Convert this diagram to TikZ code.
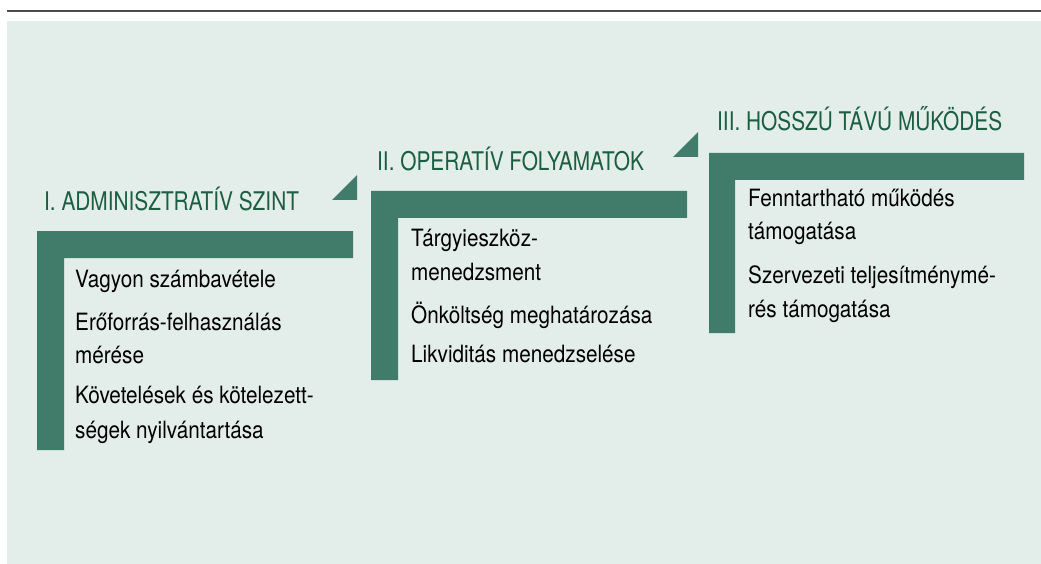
\documentclass[tikz,border=0pt]{standalone}
\usepackage{fontspec}
\setmainfont{TeX Gyre Heros}[FakeStretch=0.87]
\newfontfamily\titlefont{TeX Gyre Heros}[FakeStretch=0.81]
\definecolor{stepgreen}{HTML}{407C69}
\definecolor{titlegreen}{HTML}{1B5E42}
\definecolor{panelbg}{HTML}{E3EDE9}

\tikzset{
  levelbar/.style={fill=stepgreen},
  heading/.style={anchor=base west,inner sep=0pt,text=titlegreen,
                  font=\titlefont\fontsize{25.7}{30}\selectfont},
  itemline/.style={anchor=base west,inner sep=0pt,
                  font=\fontsize{23.8}{28}\selectfont},
}

\begin{document}
\begin{tikzpicture}[x=1pt,y=-1pt]
   \useasboundingbox (0,0) rectangle (1041,564);
   \fill[panelbg] (7,21) rectangle (1041,564);
   \draw[line width=2pt,black!70] (7,11) -- (1041,11);
   % steps
   \fill[levelbar] (37,231) -- (353,231) -- (353,258) -- (64,258) -- (64,450) -- (37,450) -- cycle;
   \fill[levelbar] (371,191) -- (687,191) -- (687,218) -- (398,218) -- (398,380) -- (371,380) -- cycle;
   \fill[levelbar] (709,153) -- (1024,153) -- (1024,180) -- (735,180) -- (735,333) -- (709,333) -- cycle;
   \fill[levelbar] (332,200) -- (357,200) -- (357,175) -- cycle;
   \fill[levelbar] (673,157) -- (698,157) -- (698,132) -- cycle;
   % headings
   \node[heading] (t1) at (44,211) {I. ADMINISZTRATÍV SZINT};
   \node[heading] (t2) at (377,171) {II. OPERATÍV FOLYAMATOK};
   \node[heading] (t3) at (717,131) {III. HOSSZÚ TÁVÚ MŰKÖDÉS};
   % first level
   \node[itemline] (a1) at (75,287) {Vagyon számbavétele};
   \node[itemline] (a2) at (75,330) {Erőforrás-felhasználás};
   \node[itemline] (a3) at (75,363) {mérése};
   \node[itemline] (a4) at (75,403) {Követelések és kötelezett-};
   \node[itemline] (a5) at (75,438) {ségek nyilvántartása};
   % second level
   \node[itemline] (b1) at (411,247) {Tárgyieszköz-};
   \node[itemline] (b2) at (411,280) {menedzsment};
   \node[itemline] (b3) at (411,323) {Önköltség meghatározása};
   \node[itemline] (b4) at (411,362) {Likviditás menedzselése};
   % third level
   \node[itemline] (c1) at (748,207) {Fenntartható működés};
   \node[itemline] (c2) at (748,240) {támogatása};
   \node[itemline] (c3) at (748,283) {Szervezeti teljesítménymé-};
   \node[itemline] (c4) at (748,317) {rés támogatása};
\end{tikzpicture}
\end{document}
